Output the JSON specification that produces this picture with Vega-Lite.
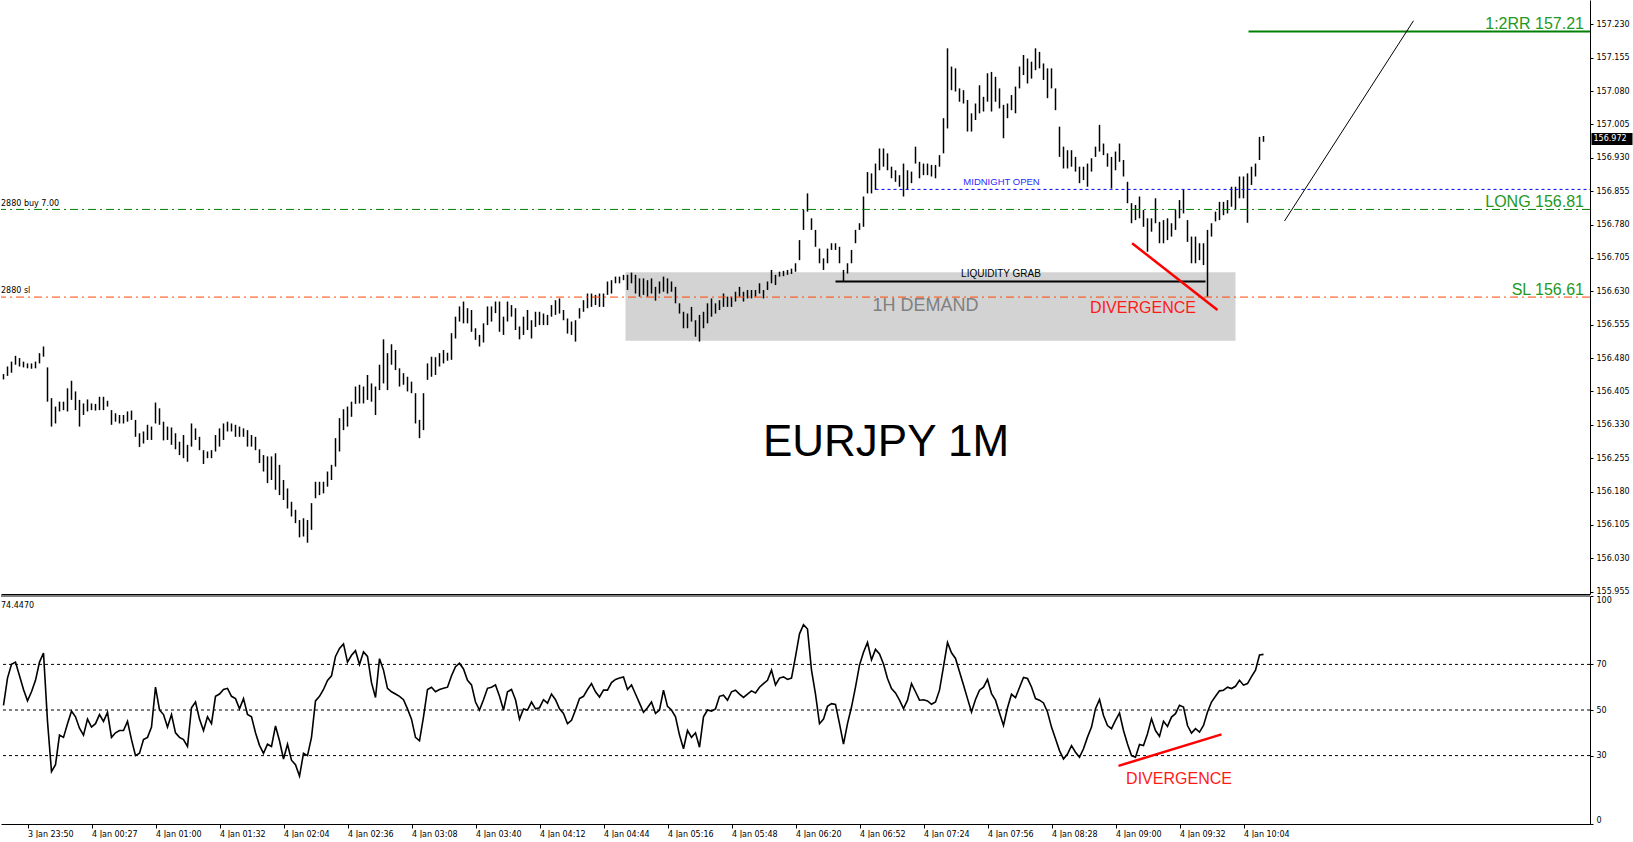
{
"$schema":"https://vega.github.io/schema/vega-lite/v6.json",
"padding":0,"autosize":{"type":"pad"},"background":"white","bounds":"flush","spacing":2,
"config":{"view":{"stroke":null},"axis":{"grid":false,"labelFont":"DejaVu Sans","labelFontSize":8,"labelColor":"#000","domainColor":"#000","tickColor":"#000","domainWidth":1,"tickWidth":1,"labelOverlap":false},"text":{"font":"Liberation Sans"}},
"datasets":{"bars":[
{"m":-12,"lo":156.432,"hi":156.444,"r":52},{"m":-10,"lo":156.440,"hi":156.461,"r":64},{"m":-8,"lo":156.447,"hi":156.472,"r":70},{"m":-6,"lo":156.465,"hi":156.485,"r":71},{"m":-4,"lo":156.461,"hi":156.480,"r":65},{"m":-2,"lo":156.459,"hi":156.472,"r":59},{"m":0,"lo":156.457,"hi":156.468,"r":54},{"m":2,"lo":156.456,"hi":156.468,"r":58},{"m":4,"lo":156.457,"hi":156.472,"r":63},{"m":6,"lo":156.468,"hi":156.491,"r":71},{"m":8,"lo":156.483,"hi":156.506,"r":75},
{"m":10,"lo":156.382,"hi":156.459,"r":45},{"m":12,"lo":156.326,"hi":156.390,"r":23},{"m":14,"lo":156.333,"hi":156.371,"r":26},{"m":16,"lo":156.360,"hi":156.382,"r":39},{"m":18,"lo":156.363,"hi":156.382,"r":38},{"m":20,"lo":156.360,"hi":156.412,"r":44},{"m":22,"lo":156.386,"hi":156.429,"r":49.5},{"m":24,"lo":156.363,"hi":156.405,"r":47},{"m":26,"lo":156.326,"hi":156.386,"r":42},{"m":28,"lo":156.352,"hi":156.378,"r":39},
{"m":30,"lo":156.360,"hi":156.387,"r":46},{"m":32,"lo":156.363,"hi":156.378,"r":42.5},{"m":34,"lo":156.362,"hi":156.377,"r":44},{"m":36,"lo":156.363,"hi":156.393,"r":48},{"m":38,"lo":156.363,"hi":156.393,"r":45},{"m":40,"lo":156.371,"hi":156.384,"r":49},{"m":42,"lo":156.330,"hi":156.363,"r":38},{"m":44,"lo":156.337,"hi":156.356,"r":40},{"m":46,"lo":156.333,"hi":156.352,"r":41},{"m":48,"lo":156.333,"hi":156.352,"r":41},
{"m":50,"lo":156.337,"hi":156.360,"r":45},{"m":52,"lo":156.341,"hi":156.362,"r":37},{"m":54,"lo":156.303,"hi":156.341,"r":30},{"m":56,"lo":156.280,"hi":156.311,"r":31},{"m":58,"lo":156.288,"hi":156.315,"r":37},{"m":60,"lo":156.296,"hi":156.330,"r":38},{"m":62,"lo":156.296,"hi":156.326,"r":42.5},{"m":64,"lo":156.333,"hi":156.380,"r":60},{"m":66,"lo":156.330,"hi":156.367,"r":50},{"m":68,"lo":156.295,"hi":156.337,"r":48},
{"m":70,"lo":156.296,"hi":156.326,"r":42.5},{"m":72,"lo":156.285,"hi":156.324,"r":48},{"m":74,"lo":156.275,"hi":156.311,"r":40},{"m":76,"lo":156.262,"hi":156.292,"r":38},{"m":78,"lo":156.255,"hi":156.307,"r":37},{"m":80,"lo":156.247,"hi":156.285,"r":34},{"m":82,"lo":156.281,"hi":156.333,"r":51},{"m":84,"lo":156.296,"hi":156.322,"r":53.5},{"m":86,"lo":156.273,"hi":156.303,"r":46},{"m":88,"lo":156.242,"hi":156.273,"r":41},
{"m":90,"lo":156.255,"hi":156.270,"r":47},{"m":92,"lo":156.255,"hi":156.273,"r":44},{"m":94,"lo":156.270,"hi":156.307,"r":56},{"m":96,"lo":156.281,"hi":156.322,"r":57},{"m":98,"lo":156.296,"hi":156.333,"r":59},{"m":100,"lo":156.315,"hi":156.337,"r":59.5},{"m":102,"lo":156.315,"hi":156.333,"r":56},{"m":104,"lo":156.303,"hi":156.330,"r":55},{"m":106,"lo":156.303,"hi":156.326,"r":50.5},{"m":108,"lo":156.303,"hi":156.322,"r":55},
{"m":110,"lo":156.281,"hi":156.318,"r":48},{"m":112,"lo":156.281,"hi":156.307,"r":47},{"m":114,"lo":156.273,"hi":156.303,"r":40},{"m":116,"lo":156.244,"hi":156.275,"r":34.5},{"m":118,"lo":156.225,"hi":156.262,"r":31},{"m":120,"lo":156.199,"hi":156.259,"r":35},{"m":122,"lo":156.206,"hi":156.259,"r":34},{"m":124,"lo":156.184,"hi":156.266,"r":43},{"m":126,"lo":156.172,"hi":156.240,"r":36.5},{"m":128,"lo":156.161,"hi":156.206,"r":28.5},
{"m":130,"lo":156.142,"hi":156.187,"r":35},{"m":132,"lo":156.124,"hi":156.157,"r":28},{"m":134,"lo":156.109,"hi":156.139,"r":26},{"m":136,"lo":156.077,"hi":156.116,"r":21},{"m":138,"lo":156.079,"hi":156.120,"r":31},{"m":140,"lo":156.065,"hi":156.116,"r":30},{"m":142,"lo":156.094,"hi":156.154,"r":38},{"m":144,"lo":156.165,"hi":156.202,"r":54},{"m":146,"lo":156.172,"hi":156.202,"r":56},{"m":148,"lo":156.176,"hi":156.202,"r":59},
{"m":150,"lo":156.191,"hi":156.225,"r":63},{"m":152,"lo":156.206,"hi":156.240,"r":65},{"m":154,"lo":156.236,"hi":156.300,"r":73.5},{"m":156,"lo":156.270,"hi":156.345,"r":77},{"m":158,"lo":156.318,"hi":156.365,"r":79},{"m":160,"lo":156.326,"hi":156.371,"r":71},{"m":162,"lo":156.348,"hi":156.382,"r":74},{"m":164,"lo":156.377,"hi":156.416,"r":76},{"m":166,"lo":156.378,"hi":156.420,"r":70},{"m":168,"lo":156.378,"hi":156.416,"r":75.5},
{"m":170,"lo":156.386,"hi":156.442,"r":73.5},{"m":172,"lo":156.382,"hi":156.423,"r":62},{"m":174,"lo":156.352,"hi":156.416,"r":55.5},{"m":176,"lo":156.408,"hi":156.465,"r":72.5},{"m":178,"lo":156.423,"hi":156.522,"r":67.5},{"m":180,"lo":156.408,"hi":156.491,"r":59.5},{"m":182,"lo":156.465,"hi":156.511,"r":58},{"m":184,"lo":156.453,"hi":156.498,"r":57},{"m":186,"lo":156.416,"hi":156.457,"r":56},{"m":188,"lo":156.420,"hi":156.446,"r":54.5},
{"m":190,"lo":156.405,"hi":156.438,"r":50.5},{"m":192,"lo":156.401,"hi":156.427,"r":46},{"m":194,"lo":156.333,"hi":156.401,"r":38},{"m":196,"lo":156.300,"hi":156.341,"r":36.5},{"m":198,"lo":156.318,"hi":156.401,"r":47},{"m":200,"lo":156.431,"hi":156.468,"r":59},{"m":202,"lo":156.438,"hi":156.483,"r":60},{"m":204,"lo":156.442,"hi":156.482,"r":58},{"m":206,"lo":156.461,"hi":156.491,"r":59},{"m":208,"lo":156.468,"hi":156.498,"r":59.5},
{"m":210,"lo":156.474,"hi":156.492,"r":60},{"m":212,"lo":156.476,"hi":156.536,"r":65},{"m":214,"lo":156.524,"hi":156.573,"r":69},{"m":216,"lo":156.562,"hi":156.596,"r":70.5},{"m":218,"lo":156.558,"hi":156.607,"r":68},{"m":220,"lo":156.558,"hi":156.592,"r":63},{"m":222,"lo":156.539,"hi":156.588,"r":61},{"m":224,"lo":156.521,"hi":156.547,"r":53.5},{"m":226,"lo":156.506,"hi":156.532,"r":50},{"m":228,"lo":156.515,"hi":156.558,"r":54.5},
{"m":230,"lo":156.554,"hi":156.596,"r":59.5},{"m":232,"lo":156.562,"hi":156.596,"r":60},{"m":234,"lo":156.581,"hi":156.607,"r":61},{"m":236,"lo":156.539,"hi":156.607,"r":56},{"m":238,"lo":156.532,"hi":156.573,"r":50},{"m":240,"lo":156.562,"hi":156.607,"r":58},{"m":242,"lo":156.573,"hi":156.599,"r":59},{"m":244,"lo":156.543,"hi":156.592,"r":54.5},{"m":246,"lo":156.522,"hi":156.551,"r":46},{"m":248,"lo":156.532,"hi":156.573,"r":50.5},
{"m":250,"lo":156.543,"hi":156.588,"r":50},{"m":252,"lo":156.524,"hi":156.565,"r":53.5},{"m":254,"lo":156.550,"hi":156.584,"r":50.5},{"m":256,"lo":156.554,"hi":156.584,"r":51},{"m":258,"lo":156.554,"hi":156.580,"r":54.5},{"m":260,"lo":156.554,"hi":156.577,"r":53},{"m":262,"lo":156.573,"hi":156.599,"r":57},{"m":264,"lo":156.577,"hi":156.610,"r":54.5},{"m":266,"lo":156.580,"hi":156.614,"r":50.5},{"m":268,"lo":156.565,"hi":156.588,"r":48.5},
{"m":270,"lo":156.535,"hi":156.569,"r":44},{"m":272,"lo":156.532,"hi":156.562,"r":45.5},{"m":274,"lo":156.517,"hi":156.565,"r":50},{"m":276,"lo":156.569,"hi":156.592,"r":55},{"m":278,"lo":156.584,"hi":156.610,"r":56},{"m":280,"lo":156.592,"hi":156.625,"r":59},{"m":282,"lo":156.595,"hi":156.625,"r":61.6},{"m":284,"lo":156.599,"hi":156.622,"r":58},{"m":286,"lo":156.595,"hi":156.625,"r":55.7},{"m":288,"lo":156.595,"hi":156.625,"r":58.7},
{"m":290,"lo":156.622,"hi":156.652,"r":58.7},{"m":292,"lo":156.625,"hi":156.655,"r":62},{"m":294,"lo":156.648,"hi":156.663,"r":63.4},{"m":296,"lo":156.648,"hi":156.663,"r":64},{"m":298,"lo":156.655,"hi":156.667,"r":64.5},{"m":300,"lo":156.633,"hi":156.667,"r":59},{"m":302,"lo":156.648,"hi":156.672,"r":61},{"m":304,"lo":156.625,"hi":156.667,"r":57},{"m":306,"lo":156.618,"hi":156.659,"r":53},{"m":308,"lo":156.622,"hi":156.659,"r":49},
{"m":310,"lo":156.618,"hi":156.655,"r":51},{"m":312,"lo":156.625,"hi":156.659,"r":53.5},{"m":314,"lo":156.609,"hi":156.640,"r":48.5},{"m":316,"lo":156.625,"hi":156.652,"r":50},{"m":318,"lo":156.629,"hi":156.663,"r":58.7},{"m":320,"lo":156.625,"hi":156.659,"r":51.6},{"m":322,"lo":156.629,"hi":156.652,"r":50},{"m":324,"lo":156.603,"hi":156.640,"r":47},{"m":326,"lo":156.580,"hi":156.603,"r":39},{"m":328,"lo":156.547,"hi":156.584,"r":33},
{"m":330,"lo":156.547,"hi":156.580,"r":41},{"m":332,"lo":156.562,"hi":156.595,"r":38},{"m":334,"lo":156.528,"hi":156.565,"r":40},{"m":336,"lo":156.517,"hi":156.577,"r":33.7},{"m":338,"lo":156.547,"hi":156.584,"r":47},{"m":340,"lo":156.558,"hi":156.603,"r":50},{"m":342,"lo":156.573,"hi":156.614,"r":49.5},{"m":344,"lo":156.580,"hi":156.603,"r":50.5},{"m":346,"lo":156.588,"hi":156.610,"r":56},{"m":348,"lo":156.595,"hi":156.625,"r":56.5},
{"m":350,"lo":156.595,"hi":156.618,"r":54.3},{"m":352,"lo":156.595,"hi":156.618,"r":58},{"m":354,"lo":156.607,"hi":156.629,"r":58.7},{"m":356,"lo":156.618,"hi":156.640,"r":57},{"m":358,"lo":156.607,"hi":156.629,"r":55.5},{"m":360,"lo":156.614,"hi":156.633,"r":57},{"m":362,"lo":156.614,"hi":156.633,"r":58.4},{"m":364,"lo":156.618,"hi":156.633,"r":57.5},{"m":366,"lo":156.625,"hi":156.648,"r":60},{"m":368,"lo":156.614,"hi":156.633,"r":61.6},
{"m":370,"lo":156.633,"hi":156.652,"r":63},{"m":372,"lo":156.648,"hi":156.678,"r":67.5},{"m":374,"lo":156.644,"hi":156.667,"r":61},{"m":376,"lo":156.663,"hi":156.674,"r":64},{"m":378,"lo":156.664,"hi":156.676,"r":64.5},{"m":380,"lo":156.667,"hi":156.678,"r":63.4},{"m":382,"lo":156.669,"hi":156.681,"r":64},{"m":384,"lo":156.674,"hi":156.693,"r":73.4},{"m":386,"lo":156.700,"hi":156.745,"r":83.4},{"m":388,"lo":156.768,"hi":156.813,"r":87.4},
{"m":390,"lo":156.809,"hi":156.850,"r":85.5},{"m":392,"lo":156.768,"hi":156.794,"r":67.5},{"m":394,"lo":156.730,"hi":156.768,"r":57},{"m":396,"lo":156.693,"hi":156.726,"r":44},{"m":398,"lo":156.678,"hi":156.704,"r":46},{"m":400,"lo":156.693,"hi":156.726,"r":51.6},{"m":402,"lo":156.723,"hi":156.738,"r":52.8},{"m":404,"lo":156.723,"hi":156.738,"r":52.4},{"m":406,"lo":156.693,"hi":156.730,"r":44},{"m":408,"lo":156.652,"hi":156.678,"r":35},
{"m":410,"lo":156.670,"hi":156.693,"r":44},{"m":412,"lo":156.693,"hi":156.723,"r":51.3},{"m":414,"lo":156.738,"hi":156.768,"r":60},{"m":416,"lo":156.768,"hi":156.783,"r":69.7},{"m":418,"lo":156.775,"hi":156.843,"r":75.3},{"m":420,"lo":156.850,"hi":156.898,"r":79.6},{"m":422,"lo":156.850,"hi":156.895,"r":72},{"m":424,"lo":156.858,"hi":156.917,"r":76.6},{"m":426,"lo":156.902,"hi":156.951,"r":74.6},{"m":428,"lo":156.910,"hi":156.951,"r":70.2},
{"m":430,"lo":156.902,"hi":156.940,"r":63.8},{"m":432,"lo":156.884,"hi":156.910,"r":59.4},{"m":434,"lo":156.876,"hi":156.902,"r":57.5},{"m":436,"lo":156.865,"hi":156.891,"r":54.3},{"m":438,"lo":156.843,"hi":156.917,"r":50.6},{"m":440,"lo":156.858,"hi":156.902,"r":54.3},{"m":442,"lo":156.873,"hi":156.899,"r":61.6},{"m":444,"lo":156.917,"hi":156.955,"r":58},{"m":446,"lo":156.884,"hi":156.921,"r":54.3},{"m":448,"lo":156.891,"hi":156.917,"r":54.5},
{"m":450,"lo":156.891,"hi":156.917,"r":54},{"m":452,"lo":156.888,"hi":156.914,"r":52.5},{"m":454,"lo":156.884,"hi":156.914,"r":53.5},{"m":456,"lo":156.910,"hi":156.936,"r":58.7},{"m":458,"lo":156.940,"hi":157.019,"r":69},{"m":460,"lo":156.996,"hi":157.176,"r":79.6},{"m":462,"lo":157.082,"hi":157.135,"r":75.1},{"m":464,"lo":157.079,"hi":157.131,"r":72.6},{"m":466,"lo":157.056,"hi":157.086,"r":66.8},{"m":468,"lo":157.052,"hi":157.082,"r":61},
{"m":470,"lo":156.989,"hi":157.060,"r":55},{"m":472,"lo":156.989,"hi":157.030,"r":49.1},{"m":474,"lo":157.015,"hi":157.052,"r":54.6},{"m":476,"lo":157.030,"hi":157.093,"r":58.7},{"m":478,"lo":157.034,"hi":157.067,"r":60},{"m":480,"lo":157.056,"hi":157.120,"r":63.4},{"m":482,"lo":157.034,"hi":157.123,"r":57.2},{"m":484,"lo":157.056,"hi":157.112,"r":54.3},{"m":486,"lo":157.041,"hi":157.086,"r":48.7},{"m":488,"lo":156.974,"hi":157.049,"r":43.2},
{"m":490,"lo":157.019,"hi":157.052,"r":51},{"m":492,"lo":157.037,"hi":157.071,"r":56.9},{"m":494,"lo":157.030,"hi":157.090,"r":55.4},{"m":496,"lo":157.086,"hi":157.135,"r":59.9},{"m":498,"lo":157.116,"hi":157.161,"r":64.3},{"m":500,"lo":157.097,"hi":157.153,"r":63.8},{"m":502,"lo":157.108,"hi":157.146,"r":60.1},{"m":504,"lo":157.127,"hi":157.176,"r":55},{"m":506,"lo":157.131,"hi":157.168,"r":54.3},{"m":508,"lo":157.105,"hi":157.142,"r":53.1},
{"m":510,"lo":157.064,"hi":157.131,"r":49.1},{"m":512,"lo":157.086,"hi":157.131,"r":42.5},{"m":514,"lo":157.037,"hi":157.086,"r":37.4},{"m":516,"lo":156.932,"hi":157.000,"r":32.2},{"m":518,"lo":156.906,"hi":156.955,"r":28.5},{"m":520,"lo":156.906,"hi":156.947,"r":30.7},{"m":522,"lo":156.910,"hi":156.947,"r":34.4},{"m":524,"lo":156.899,"hi":156.932,"r":31.5},{"m":526,"lo":156.873,"hi":156.910,"r":29.3},{"m":528,"lo":156.880,"hi":156.910,"r":33},
{"m":530,"lo":156.865,"hi":156.917,"r":38.1},{"m":532,"lo":156.899,"hi":156.929,"r":42.5},{"m":534,"lo":156.932,"hi":156.955,"r":50.6},{"m":536,"lo":156.944,"hi":157.004,"r":54.6},{"m":538,"lo":156.936,"hi":156.962,"r":47.6},{"m":540,"lo":156.910,"hi":156.940,"r":43.2},{"m":542,"lo":156.861,"hi":156.932,"r":41.8},{"m":544,"lo":156.902,"hi":156.944,"r":45.4},{"m":546,"lo":156.921,"hi":156.962,"r":48.7},{"m":548,"lo":156.888,"hi":156.925,"r":41},
{"m":550,"lo":156.828,"hi":156.876,"r":35.1},{"m":552,"lo":156.783,"hi":156.828,"r":30},{"m":554,"lo":156.790,"hi":156.824,"r":29.3},{"m":556,"lo":156.794,"hi":156.843,"r":34.9},{"m":558,"lo":156.775,"hi":156.813,"r":34.4},{"m":560,"lo":156.719,"hi":156.794,"r":39.6},{"m":562,"lo":156.764,"hi":156.794,"r":46.2},{"m":564,"lo":156.783,"hi":156.839,"r":41},{"m":566,"lo":156.738,"hi":156.786,"r":38.4},{"m":568,"lo":156.738,"hi":156.790,"r":45.1},
{"m":570,"lo":156.745,"hi":156.794,"r":42.8},{"m":572,"lo":156.753,"hi":156.783,"r":46.9},{"m":574,"lo":156.768,"hi":156.813,"r":48.4},{"m":576,"lo":156.794,"hi":156.835,"r":52.1},{"m":578,"lo":156.805,"hi":156.858,"r":51.3},{"m":580,"lo":156.741,"hi":156.790,"r":43.2},{"m":582,"lo":156.693,"hi":156.753,"r":39.9},{"m":584,"lo":156.693,"hi":156.753,"r":41.8},{"m":586,"lo":156.700,"hi":156.738,"r":40.3},{"m":588,"lo":156.689,"hi":156.738,"r":43.2},
{"m":590,"lo":156.618,"hi":156.768,"r":49.1},{"m":592,"lo":156.753,"hi":156.783,"r":53.5},{"m":594,"lo":156.787,"hi":156.809,"r":56},{"m":596,"lo":156.790,"hi":156.831,"r":58.4},{"m":598,"lo":156.801,"hi":156.831,"r":58.7},{"m":600,"lo":156.805,"hi":156.835,"r":60},{"m":602,"lo":156.820,"hi":156.865,"r":59.4},{"m":604,"lo":156.813,"hi":156.865,"r":60.4},{"m":606,"lo":156.839,"hi":156.888,"r":63},{"m":608,"lo":156.839,"hi":156.888,"r":60.9},
{"m":610,"lo":156.784,"hi":156.895,"r":61.6},{"m":612,"lo":156.869,"hi":156.910,"r":64.6},{"m":614,"lo":156.888,"hi":156.917,"r":67.5},{"m":616,"lo":156.925,"hi":156.977,"r":74.1},{"m":618,"lo":156.966,"hi":156.979,"r":74.4}
]},
"vconcat":[
{"width":1589,"height":594,
"layer":[
{"data":{"values":[{"m":299,"m2":604,"v":156.519,"v2":156.673}]},"mark":{"type":"rect","color":"#d3d3d3"},
"encoding":{"x":{"field":"m","type":"quantitative","scale":{"domain":[-13.25,781.25],"nice":false,"zero":false},"axis":{"labels":false,"ticks":false,"domain":true,"title":null,"orient":"bottom"}},"x2":{"field":"m2"},
"y":{"field":"v","type":"quantitative","scale":{"domain":[155.9498,157.2846],"nice":false,"zero":false},"axis":{"orient":"right","title":null,"format":".3f","tickSize":3,"labelPadding":3,"labelFlush":false,"labelOverlap":false,"tickCount":40,"domain":true,"values":[155.955,156.03,156.105,156.18,156.255,156.33,156.405,156.48,156.555,156.63,156.705,156.78,156.855,156.93,157.005,157.08,157.155,157.23]}},"y2":{"field":"v2"}}},
{"data":{"name":"bars"},"mark":{"type":"rule","color":"#000","strokeWidth":1.5},
"encoding":{"x":{"field":"m","type":"quantitative","scale":{"domain":[-13.25,781.25],"nice":false,"zero":false}},"y":{"field":"lo","type":"quantitative","scale":{"domain":[155.9498,157.2846],"nice":false,"zero":false}},"y2":{"field":"hi"}}},
{"data":{"values":[{"v":156.814}]},"mark":{"type":"rule","color":"#008000","strokeWidth":1,"strokeDash":[8,4,2,4]},
"encoding":{"y":{"field":"v","type":"quantitative","scale":{"domain":[155.9498,157.2846],"nice":false,"zero":false}}}},
{"data":{"values":[{"v":156.617}]},"mark":{"type":"rule","color":"#ff4500","strokeWidth":1,"strokeDash":[8,4,2,4]},
"encoding":{"y":{"field":"v","type":"quantitative","scale":{"domain":[155.9498,157.2846],"nice":false,"zero":false}}}},
{"data":{"values":[{"m":424,"m2":781.25,"v":156.859}]},"mark":{"type":"rule","color":"#0000ff","strokeWidth":1,"strokeDash":[3,3]},
"encoding":{"x":{"field":"m","type":"quantitative","scale":{"domain":[-13.25,781.25],"nice":false,"zero":false}},"x2":{"field":"m2"},"y":{"field":"v","type":"quantitative","scale":{"domain":[155.9498,157.2846],"nice":false,"zero":false}}}},
{"data":{"values":[{"m":404,"m2":589,"v":156.652}]},"mark":{"type":"rule","color":"#000","strokeWidth":2},
"encoding":{"x":{"field":"m","type":"quantitative","scale":{"domain":[-13.25,781.25],"nice":false,"zero":false}},"x2":{"field":"m2"},"y":{"field":"v","type":"quantitative","scale":{"domain":[155.9498,157.2846],"nice":false,"zero":false}}}},
{"data":{"values":[{"m":610.5,"m2":781.25,"v":157.214}]},"mark":{"type":"rule","color":"#008000","strokeWidth":2},
"encoding":{"x":{"field":"m","type":"quantitative","scale":{"domain":[-13.25,781.25],"nice":false,"zero":false}},"x2":{"field":"m2"},"y":{"field":"v","type":"quantitative","scale":{"domain":[155.9498,157.2846],"nice":false,"zero":false}}}},
{"data":{"values":[{"m":628.5,"m2":693,"v":156.788,"v2":157.238}]},"mark":{"type":"rule","color":"#000","strokeWidth":1},
"encoding":{"x":{"field":"m","type":"quantitative","scale":{"domain":[-13.25,781.25],"nice":false,"zero":false}},"x2":{"field":"m2"},"y":{"field":"v","type":"quantitative","scale":{"domain":[155.9498,157.2846],"nice":false,"zero":false}},"y2":{"field":"v2"}}},
{"data":{"values":[{"m":552.3,"m2":595,"v":156.738,"v2":156.588}]},"mark":{"type":"rule","color":"#ff0000","strokeWidth":2.5},
"encoding":{"x":{"field":"m","type":"quantitative","scale":{"domain":[-13.25,781.25],"nice":false,"zero":false}},"x2":{"field":"m2"},"y":{"field":"v","type":"quantitative","scale":{"domain":[155.9498,157.2846],"nice":false,"zero":false}},"y2":{"field":"v2"}}},
{"data":{"values":[{"m":778.25,"v":157.214,"t":"1:2RR 157.21"},{"m":778.25,"v":156.814,"t":"LONG 156.81"},{"m":778.25,"v":156.617,"t":"SL 156.61"}]},"mark":{"type":"text","align":"right","baseline":"alphabetic","dy":-2,"fontSize":16,"color":"#229922","font":"Liberation Sans"},
"encoding":{"x":{"field":"m","type":"quantitative","scale":{"domain":[-13.25,781.25],"nice":false,"zero":false}},"y":{"field":"v","type":"quantitative","scale":{"domain":[155.9498,157.2846],"nice":false,"zero":false}},"text":{"field":"t"}}},
{"data":{"values":[{"m":449,"v":156.597,"t":"1H DEMAND"}]},"mark":{"type":"text","align":"center","baseline":"middle","fontSize":18,"color":"#808080","font":"Liberation Sans"},
"encoding":{"x":{"field":"m","type":"quantitative","scale":{"domain":[-13.25,781.25],"nice":false,"zero":false}},"y":{"field":"v","type":"quantitative","scale":{"domain":[155.9498,157.2846],"nice":false,"zero":false}},"text":{"field":"t"}}},
{"data":{"values":[{"m":486.75,"v":156.669,"t":"LIQUIDITY GRAB"}]},"mark":{"type":"text","align":"center","baseline":"middle","fontSize":10,"color":"#000","font":"Liberation Sans"},
"encoding":{"x":{"field":"m","type":"quantitative","scale":{"domain":[-13.25,781.25],"nice":false,"zero":false}},"y":{"field":"v","type":"quantitative","scale":{"domain":[155.9498,157.2846],"nice":false,"zero":false}},"text":{"field":"t"}}},
{"data":{"values":[{"m":487,"v":156.876,"t":"MIDNIGHT OPEN"}]},"mark":{"type":"text","align":"center","baseline":"middle","fontSize":9.5,"color":"#2a2aff","font":"Liberation Sans"},
"encoding":{"x":{"field":"m","type":"quantitative","scale":{"domain":[-13.25,781.25],"nice":false,"zero":false}},"y":{"field":"v","type":"quantitative","scale":{"domain":[155.9498,157.2846],"nice":false,"zero":false}},"text":{"field":"t"}}},
{"data":{"values":[{"m":557.75,"v":156.593,"t":"DIVERGENCE"}]},"mark":{"type":"text","align":"center","baseline":"middle","fontSize":16,"color":"#ff1a1a","font":"Liberation Sans"},
"encoding":{"x":{"field":"m","type":"quantitative","scale":{"domain":[-13.25,781.25],"nice":false,"zero":false}},"y":{"field":"v","type":"quantitative","scale":{"domain":[155.9498,157.2846],"nice":false,"zero":false}},"text":{"field":"t"}}},
{"data":{"values":[{"m":-13.25,"v":156.8217,"t":"2880 buy 7.00"},{"m":-13.25,"v":156.6262,"t":"2880 sl"}]},"mark":{"type":"text","align":"left","baseline":"alphabetic","fontSize":8,"color":"#000","font":"DejaVu Sans"},
"encoding":{"x":{"field":"m","type":"quantitative","scale":{"domain":[-13.25,781.25],"nice":false,"zero":false}},"y":{"field":"v","type":"quantitative","scale":{"domain":[155.9498,157.2846],"nice":false,"zero":false}},"text":{"field":"t"}}},
{"data":{"values":[{"m":429.25,"v":156.29,"t":"EURJPY 1M"}]},"mark":{"type":"text","align":"center","baseline":"middle","fontSize":44,"color":"#000","font":"Liberation Sans"},
"encoding":{"x":{"field":"m","type":"quantitative","scale":{"domain":[-13.25,781.25],"nice":false,"zero":false}},"y":{"field":"v","type":"quantitative","scale":{"domain":[155.9498,157.2846],"nice":false,"zero":false}},"text":{"field":"t"}}},
{"data":{"values":[{"m":782,"m2":802.5,"v":156.9585,"v2":156.9855}]},"mark":{"type":"rect","color":"#000"},
"encoding":{"x":{"field":"m","type":"quantitative","scale":{"domain":[-13.25,781.25],"nice":false,"zero":false}},"x2":{"field":"m2"},"y":{"field":"v","type":"quantitative","scale":{"domain":[155.9498,157.2846],"nice":false,"zero":false}},"y2":{"field":"v2"}}},
{"data":{"values":[{"m":783,"v":156.972,"t":"156.972"}]},"mark":{"type":"text","align":"left","baseline":"middle","fontSize":8,"color":"#fff","font":"DejaVu Sans"},
"encoding":{"x":{"field":"m","type":"quantitative","scale":{"domain":[-13.25,781.25],"nice":false,"zero":false}},"y":{"field":"v","type":"quantitative","scale":{"domain":[155.9498,157.2846],"nice":false,"zero":false}},"text":{"field":"t"}}}
]},
{"width":1589,"height":228,
"layer":[
{"data":{"values":[{"r":30},{"r":50},{"r":70}]},"mark":{"type":"rule","color":"#000","strokeWidth":1,"strokeDash":[3,3]},
"encoding":{"y":{"field":"r","type":"quantitative","scale":{"domain":[0,100],"nice":false,"zero":false},"axis":{"orient":"right","title":null,"values":[0,30,50,70,100],"tickCount":20,"tickSize":3,"labelPadding":3,"labelFlush":true,"labelOverlap":false,"domain":true}}}},
{"data":{"values":[{"r":100}]},"mark":{"type":"rule","color":"#000","strokeWidth":1},
"encoding":{"y":{"field":"r","type":"quantitative","scale":{"domain":[0,100],"nice":false,"zero":false}}}},
{"data":{"name":"bars"},"mark":{"type":"line","color":"#000","strokeWidth":1.6},
"encoding":{"x":{"field":"m","type":"quantitative","scale":{"domain":[-13.25,781.25],"nice":false,"zero":false},"axis":{"title":null,"orient":"bottom","domain":true,"tickCount":50,"values":[0,32,64,96,128,160,192,224,256,288,320,352,384,416,448,480,512,544,576,608],"labelExpr":"['3 Jan 23:50','4 Jan 00:27','4 Jan 01:00','4 Jan 01:32','4 Jan 02:04','4 Jan 02:36','4 Jan 03:08','4 Jan 03:40','4 Jan 04:12','4 Jan 04:44','4 Jan 05:16','4 Jan 05:48','4 Jan 06:20','4 Jan 06:52','4 Jan 07:24','4 Jan 07:56','4 Jan 08:28','4 Jan 09:00','4 Jan 09:32','4 Jan 10:04'][round(datum.value/32)]","labelAlign":"left","labelFlush":false,"labelOverlap":false,"tickSize":4,"labelPadding":2}},
"y":{"field":"r","type":"quantitative","scale":{"domain":[0,100],"nice":false,"zero":false}}}},
{"data":{"values":[{"m":545.5,"m2":597,"r":25.5,"r2":39.3}]},"mark":{"type":"rule","color":"#ff0000","strokeWidth":2.5},
"encoding":{"x":{"field":"m","type":"quantitative","scale":{"domain":[-13.25,781.25],"nice":false,"zero":false}},"x2":{"field":"m2"},"y":{"field":"r","type":"quantitative","scale":{"domain":[0,100],"nice":false,"zero":false}},"y2":{"field":"r2"}}},
{"data":{"values":[{"m":575.75,"r":19.7,"t":"DIVERGENCE"}]},"mark":{"type":"text","align":"center","baseline":"middle","fontSize":16,"color":"#ff1a1a","font":"Liberation Sans"},
"encoding":{"x":{"field":"m","type":"quantitative","scale":{"domain":[-13.25,781.25],"nice":false,"zero":false}},"y":{"field":"r","type":"quantitative","scale":{"domain":[0,100],"nice":false,"zero":false}},"text":{"field":"t"}}},
{"data":{"values":[{"m":-13.25,"r":95.7,"t":"74.4470"}]},"mark":{"type":"text","align":"left","baseline":"middle","fontSize":8,"color":"#000","font":"DejaVu Sans"},
"encoding":{"x":{"field":"m","type":"quantitative","scale":{"domain":[-13.25,781.25],"nice":false,"zero":false}},"y":{"field":"r","type":"quantitative","scale":{"domain":[0,100],"nice":false,"zero":false}},"text":{"field":"t"}}}
]}
]
}
